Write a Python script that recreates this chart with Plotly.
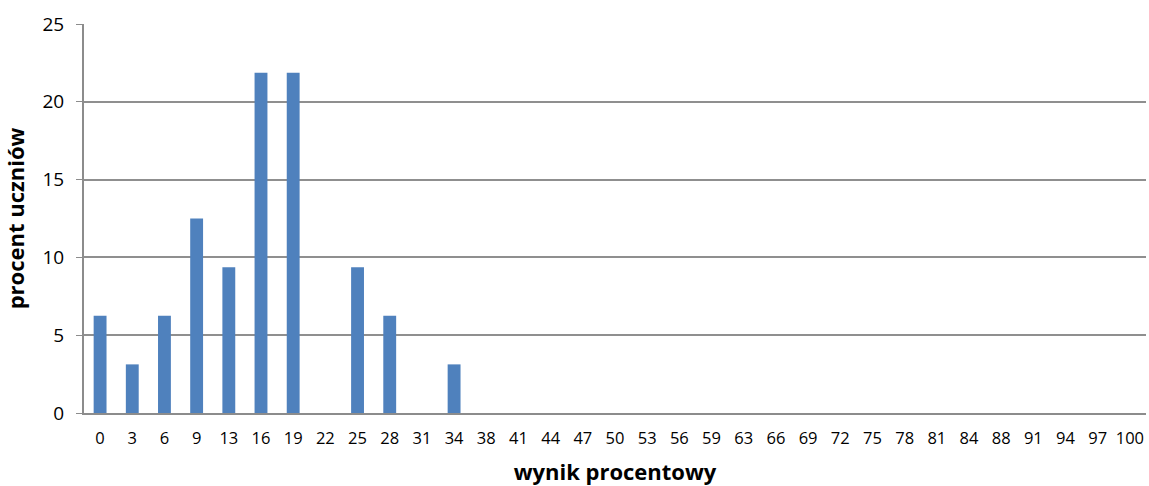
import plotly.graph_objects as go

categories = ["0","3","6","9","13","16","19","22","25","28","31","34","38","41","44","47","50",
              "53","56","59","63","66","69","72","75","78","81","84","88","91","94","97","100"]
values = [6.25, 3.125, 6.25, 12.5, 9.375, 21.875, 21.875, 0, 9.375, 6.25, 0, 3.125] + [0]*21
y_ticks = [0, 5, 10, 15, 20, 25]

fig = go.Figure(go.Bar(x=categories, y=values, marker_color="#4F81BD", width=0.4,
                       marker_line_width=0, cliponaxis=False))

font = "Open Sans, Liberation Sans, sans-serif"
fig.update_layout(
    width=1149, height=486,
    margin=dict(l=84, r=3, t=24, b=73),
    plot_bgcolor="white", paper_bgcolor="white",
    showlegend=False,
    font=dict(family=font, size=13, color="black"),
    xaxis=dict(type="category", showgrid=False, showline=True, linecolor="#8C8C8C", linewidth=2,
               ticks="", tickfont=dict(size=16.5), automargin=False, ticklabelstandoff=9,
               title=dict(text="<b>wynik procentowy</b>", font=dict(size=22), standoff=26)),
    yaxis=dict(range=[0, 25], tickvals=y_ticks, showgrid=True, gridcolor="#8F8F8F", gridwidth=1.5,
               showline=True, linecolor="#8C8C8C", linewidth=2, ticks="outside", ticklen=6,
               tickcolor="#8C8C8C", tickfont=dict(size=19), zeroline=False, automargin=False,
               ticklabelstandoff=8,
               title=dict(text="<b>procent uczniów</b>", font=dict(size=22), standoff=16)),
)
fig.write_html("out.html", config={"displayModeBar": False},
               post_script="document.body.style.margin='0';document.body.style.overflow='hidden';")
